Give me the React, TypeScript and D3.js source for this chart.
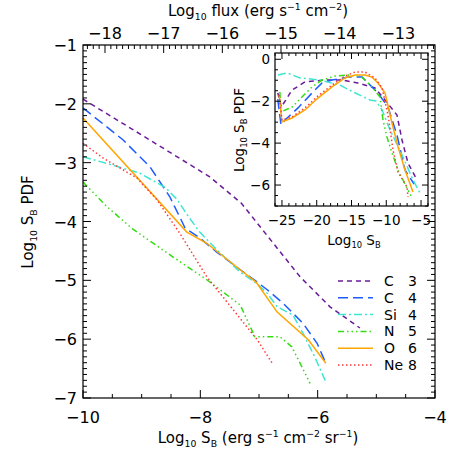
import React from "react";
import * as d3 from "d3";

// ---------- data ----------
const SERIES_NAMES = ["C", "C", "Si", "N", "O", "Ne"];
const SERIES_IONS = ["3", "4", "4", "5", "6", "8"];
const SERIES_COLORS = ["#6a1b9a", "#1f5cff", "#3ee6d2", "#33dd11", "#ffa500", "#ff3a3a"];
const SERIES_DASH = ["5,4", "10,5", "8,3,2,3", "6,3,1.5,3,1.5,3,1.5,3", "", "1.5,2.5"];

const C3_MAIN = [[-10, -1.92], [-9, -2.53], [-7.84, -3.24], [-7.3, -3.69], [-6.98, -4.09], [-6.3, -4.94], [-5.79, -5.45], [-5.28, -5.81]];
const C4_MAIN = [[-10, -2.07], [-9.32, -2.61], [-8.86, -3.07], [-8.52, -3.58], [-8.26, -4.11], [-8.01, -4.28], [-7.72, -4.52], [-7.32, -4.82], [-7.03, -5.03], [-6.86, -5.16], [-6.59, -5.39], [-6.25, -5.73], [-6.01, -6.07], [-5.86, -6.41]];
const SI4_MAIN = [[-10, -2.9], [-9.5, -3.04], [-9.03, -3.18], [-8.6, -3.42], [-8.4, -3.62], [-8.2, -3.92], [-8.01, -4.18], [-7.7, -4.5], [-7.32, -4.86], [-7.03, -5.06], [-6.86, -5.22], [-6.69, -5.45], [-6.42, -5.59], [-6.25, -5.9], [-6.05, -6.3], [-5.86, -6.73]];
const N5_MAIN = [[-10, -3.33], [-9.59, -3.75], [-9.15, -4.13], [-8.47, -4.6], [-7.89, -4.99], [-7.32, -5.42], [-7.07, -5.96], [-6.64, -5.96], [-6.44, -6.13], [-6.13, -6.75]];
const O6_MAIN = [[-10, -2.24], [-8.23, -4.18], [-7.89, -4.37], [-7.32, -4.82], [-7.05, -5.03], [-6.69, -5.54], [-6.16, -6.01], [-5.86, -6.41]];
const NE8_MAIN = [[-10, -2.67], [-9.66, -2.92], [-9.32, -3.12], [-9.08, -3.26], [-8.74, -3.63], [-8.35, -4.2], [-7.89, -4.94], [-7.44, -5.5], [-7.2, -5.8], [-7.03, -6.01], [-6.78, -6.4]];

const C3_INSET = [[-25.6, -1.6], [-25.1, -2.28], [-23.55, -1.47], [-21.7, -1.08], [-18.8, -0.99], [-16.37, -0.99], [-14.07, -1.13], [-11.62, -1.37], [-10.18, -1.94], [-8.46, -2.66], [-7.74, -3.85], [-6.88, -4.95], [-5.58, -5.76]];
const C4_INSET = [[-25.6, -1.9], [-25.14, -3.13], [-24.56, -2.9], [-22.69, -2.32], [-20.68, -1.61], [-19.24, -1.13], [-17.8, -0.99], [-15.5, -0.85], [-13.49, -0.85], [-12.05, -1.32], [-11.19, -1.61], [-9.75, -2.28], [-8.46, -3.61], [-7.31, -5.28], [-6.0, -5.95]];
const SI4_INSET = [[-25.57, -0.75], [-24.27, -0.65], [-22.4, -0.89], [-19.53, -0.99], [-16.65, -1.23], [-14.78, -1.56], [-12.34, -1.94], [-11.48, -1.99], [-10.6, -2.42], [-9.46, -3.37], [-7.6, -4.66], [-6.16, -5.76], [-5.15, -6.38]];
const N5_INSET = [[-25.3, -1.56], [-25.14, -2.51], [-23.55, -2.28], [-22.12, -1.8], [-20.68, -1.32], [-19.24, -0.99], [-17.37, -0.8], [-15.5, -0.75], [-13.49, -0.85], [-12.05, -1.32], [-10.9, -1.8], [-10.47, -2.9], [-9.9, -3.71], [-9.18, -4.47], [-8.31, -5.28], [-6.3, -6.62]];
const O6_INSET = [[-25.4, -1.7], [-25.0, -2.99], [-23.55, -2.8], [-21.69, -2.42], [-19.82, -1.85], [-17.8, -1.32], [-15.94, -0.89], [-14.5, -0.75], [-13.06, -0.75], [-12.05, -0.85], [-11.19, -1.13], [-10.18, -1.61], [-9.18, -3.04], [-8.31, -4.18], [-7.31, -5.28], [-6.16, -6.33]];
const NE8_INSET = [[-25.4, -1.7], [-25.0, -2.9], [-23.55, -2.75], [-21.69, -2.32], [-19.82, -1.75], [-17.8, -1.23], [-15.94, -0.8], [-14.5, -0.61], [-13.06, -0.61], [-11.62, -0.89], [-10.6, -1.37], [-9.75, -2.66], [-9.03, -4.33], [-8.31, -5.38], [-7.02, -6.09], [-6.88, -6.57]];

const MAIN_SERIES = [C3_MAIN, C4_MAIN, SI4_MAIN, N5_MAIN, O6_MAIN, NE8_MAIN];
const INSET_SERIES = [C3_INSET, C4_INSET, SI4_INSET, N5_INSET, O6_INSET, NE8_INSET];

const X_TICKS = [-10, -8, -6, -4];
const Y_TICKS = [-7, -6, -5, -4, -3, -2, -1];
const FLUX_TICKS = [-18, -17, -16, -15, -14, -13];
const INSET_X_TICKS = [-25, -20, -15, -10, -5];
const INSET_Y_TICKS = [0, -2, -4, -6];

// ---------- layout ----------
const FONT = "'DejaVu Sans', sans-serif";
const M = { l: 83, r: 435, t: 45, b: 398 };
const I = { l: 275, r: 428, t: 53, b: 206 };

const x = d3.scaleLinear().domain([-10, -4]).range([M.l, M.r]);
const y = d3.scaleLinear().domain([-7, -1]).range([M.b, M.t]);
const fx = d3.scaleLinear().domain([-18.375, -12.375]).range([M.l, M.r]);
const ix = d3.scaleLinear().domain([-26, -4]).range([I.l, I.r]);
const iy = d3.scaleLinear().domain([-7, 0.3]).range([I.b, I.t]);

const range = (a: number, b: number, s: number) => {
  const out: number[] = [];
  const n = Math.round((b - a) / s);
  for (let i = 0; i <= n; i++) out.push(+(a + i * s).toFixed(6));
  return out;
};
const minus = (v: number) => (v < 0 ? "\u2212" + Math.abs(v) : String(v));

type Piece = [string, "n" | "b" | "p"];
function Rich({ pieces, fs }: { pieces: Piece[]; fs: number }) {
  let cur = 0;
  return (
    <>
      {pieces.map(([t, m], i) => {
        const target = m === "b" ? fs * 0.25 : m === "p" ? -fs * 0.4 : 0;
        const dy = target - cur;
        cur = target;
        return (
          <tspan key={i} dy={dy} fontSize={m === "n" ? fs : fs * 0.62}>{t}</tspan>
        );
      })}
    </>
  );
}

const X_TITLE: Piece[] = [["Log", "n"], ["10", "b"], [" S", "n"], ["B", "b"], [" (erg s", "n"], ["−1", "p"], [" cm", "n"], ["−2", "p"], [" sr", "n"], ["−1", "p"], [")", "n"]];
const TOP_TITLE: Piece[] = [["Log", "n"], ["10", "b"], [" flux (erg s", "n"], ["−1", "p"], [" cm", "n"], ["−2", "p"], [")", "n"]];
const Y_TITLE: Piece[] = [["Log", "n"], ["10", "b"], [" S", "n"], ["B", "b"], [" PDF", "n"]];
const IX_TITLE: Piece[] = [["Log", "n"], ["10", "b"], [" S", "n"], ["B", "b"]];

export default function App() {
  const mainLine = d3.line<number[]>().x((d) => x(d[0])).y((d) => y(d[1]));
  const insetLine = d3.line<number[]>().x((d) => ix(d[0])).y((d) => iy(d[1]));

  const ticks: any[] = [];
  const tk = (x1: number, y1: number, x2: number, y2: number, k: string) =>
    ticks.push(<line key={k} x1={x1} y1={y1} x2={x2} y2={y2} stroke="#000" strokeWidth={1} />);

  range(-10, -4, 0.5).forEach((v, i) => {
    const major = X_TICKS.includes(v);
    tk(x(v), M.b, x(v), M.b - (major ? 8 : 4), "b" + i);
  });
  range(-18.3, -12.4, 0.1).forEach((v, i) => {
    const major = Math.abs(v - Math.round(v)) < 1e-6;
    tk(fx(v), M.t, fx(v), M.t + (major ? 8 : 4), "t" + i);
  });
  range(-7, -1, 0.1).forEach((v, i) => {
    const major = Math.abs(v - Math.round(v)) < 1e-6;
    tk(M.l, y(v), M.l + (major ? 8 : 4), y(v), "l" + i);
    tk(M.r, y(v), M.r - (major ? 8 : 4), y(v), "r" + i);
  });
  range(-26, -4, 1).forEach((v, i) => {
    const major = INSET_X_TICKS.includes(v);
    tk(ix(v), I.b, ix(v), I.b - (major ? 6 : 3), "ib" + i);
    tk(ix(v), I.t, ix(v), I.t + (major ? 6 : 3), "it" + i);
  });
  range(-7, 0, 0.5).forEach((v, i) => {
    const major = INSET_Y_TICKS.includes(v);
    tk(I.l, iy(v), I.l + (major ? 6 : 3), iy(v), "il" + i);
    tk(I.r, iy(v), I.r - (major ? 6 : 3), iy(v), "ir" + i);
  });

  return (
    <svg width={458} height={458} style={{ position: "absolute", left: 0, top: 0, background: "#fff" }} fontFamily={FONT}>
      <rect x={0} y={0} width={458} height={458} fill="#fff" />
      {MAIN_SERIES.map((s, i) => (
        <path key={"m" + i} d={mainLine(s) || ""} fill="none" stroke={SERIES_COLORS[i]} strokeWidth={1.5} strokeDasharray={SERIES_DASH[i]} />
      ))}
      <rect x={M.l} y={M.t} width={M.r - M.l} height={M.b - M.t} fill="none" stroke="#000" strokeWidth={1.2} />

      {X_TICKS.map((v) => (
        <text key={"xl" + v} x={x(v)} y={423} fontSize={16} textAnchor="middle">{minus(v)}</text>
      ))}
      {Y_TICKS.map((v) => (
        <text key={"yl" + v} x={77} y={y(v) + 6} fontSize={16} textAnchor="end">{minus(v)}</text>
      ))}
      {FLUX_TICKS.map((v) => (
        <text key={"fl" + v} x={fx(v)} y={39} fontSize={16} textAnchor="middle">{minus(v)}</text>
      ))}

      <text x={258} y={443} fontSize={15} textAnchor="middle">
        <Rich pieces={X_TITLE} fs={15} />
      </text>
      <text x={258} y={16} fontSize={15} textAnchor="middle">
        <Rich pieces={TOP_TITLE} fs={15} />
      </text>
      <text transform={`translate(33,${222}) rotate(-90)`} fontSize={15} textAnchor="middle">
        <Rich pieces={Y_TITLE} fs={15} />
      </text>

      <rect x={I.l} y={I.t} width={I.r - I.l} height={I.b - I.t} fill="#fff" />
      {INSET_SERIES.map((s, i) => (
        <path key={"i" + i} d={insetLine(s) || ""} fill="none" stroke={SERIES_COLORS[i]} strokeWidth={1.5} strokeDasharray={SERIES_DASH[i]} />
      ))}
      <rect x={I.l} y={I.t} width={I.r - I.l} height={I.b - I.t} fill="none" stroke="#000" strokeWidth={1.2} />
      {INSET_X_TICKS.map((v) => (
        <text key={"ixl" + v} x={ix(v)} y={225} fontSize={13.5} textAnchor="middle">{minus(v)}</text>
      ))}
      {INSET_Y_TICKS.map((v) => (
        <text key={"iyl" + v} x={270} y={iy(v) + 5} fontSize={13.5} textAnchor="end">{minus(v)}</text>
      ))}
      <text x={354} y={245} fontSize={13.5} textAnchor="middle">
        <Rich pieces={IX_TITLE} fs={13.5} />
      </text>
      <text transform={`translate(244,${130}) rotate(-90)`} fontSize={13.5} textAnchor="middle">
        <Rich pieces={Y_TITLE} fs={13.5} />
      </text>

      {ticks}

      {SERIES_NAMES.map((n, i) => {
        const ly = 281 + i * 16.8;
        return (
          <g key={"lg" + i}>
            <line x1={338} x2={373} y1={ly} y2={ly} stroke={SERIES_COLORS[i]} strokeWidth={1.5} strokeDasharray={SERIES_DASH[i]} />
            <text x={384} y={ly + 5} fontSize={14}>{n}</text>
            <text x={408} y={ly + 5} fontSize={14}>{SERIES_IONS[i]}</text>
          </g>
        );
      })}
    </svg>
  );
}
